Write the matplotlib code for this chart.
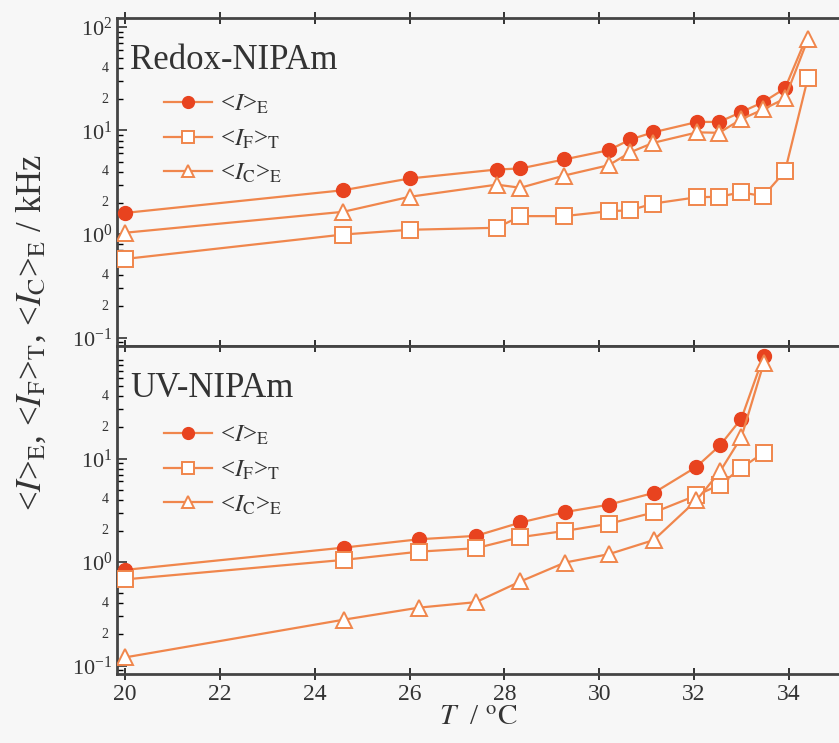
import matplotlib
matplotlib.use("Agg")
import matplotlib.pyplot as plt
from matplotlib.ticker import LogLocator, FixedLocator, NullFormatter
import numpy as np

plt.rcParams['font.family'] = ['Liberation Serif', 'DejaVu Serif']
plt.rcParams['mathtext.fontset'] = 'stix'

# Redox-NIPAm (top panel)
T_redox = [20.0, 24.6, 26.0, 27.84, 28.34, 29.26, 30.2, 30.66, 31.14, 32.07, 32.53, 32.99, 33.46, 33.92, 34.4]
I_redox = [1.60, 2.65, 3.44, 4.2, 4.3, 5.25, 6.45, 8.2, 9.6, 12.1, 12.1, 15.0, 18.8, 25.5, 85.0]
IF_redox = [0.575, 0.99, 1.10, 1.15, 1.49, 1.49, 1.66, 1.70, 1.97, 2.27, 2.29, 2.53, 2.32, 4.04, 31.8]
IC_redox = [1.03, 1.64, 2.29, 3.0, 2.8, 3.67, 4.62, 6.17, 7.6, 9.6, 9.5, 12.8, 16.0, 20.4, 75.7]

# UV-NIPAm (bottom panel)
T_uv = [20.0, 24.62, 26.2, 27.4, 28.34, 29.28, 30.2, 31.15, 32.05, 32.55, 33.0, 33.47]
I_uv = [0.84, 1.38, 1.66, 1.79, 2.41, 3.04, 3.58, 4.65, 8.3, 13.4, 24.3, 98.0]
IF_uv = [0.68, 1.05, 1.26, 1.36, 1.74, 2.0, 2.34, 3.01, 4.4, 5.6, 8.1, 11.4]
IC_uv = [0.12, 0.278, 0.363, 0.41, 0.65, 0.99, 1.19, 1.63, 3.94, 7.5, 16.1, 83.0]

x_ticks = [20, 22, 24, 26, 28, 30, 32, 34]
minor_pos = [0.2, 0.4, 2, 4, 20, 40]
minor_txt = ['2', '4', '2', '4', '2', '4']
labels = [r'<$I$>$_\mathrm{E}$', r'<$I_\mathrm{F}$>$_\mathrm{T}$', r'<$I_\mathrm{C}$>$_\mathrm{E}$']

line_c = '#f0864c'
dot_c = '#e8431f'
bg = '#f7f7f7'
txt_c = '#333333'

fig = plt.figure(figsize=(8.39, 7.43), dpi=100, facecolor=bg)
ax1 = fig.add_axes([0.1395, 0.5343, 0.86, 0.4415], facecolor=bg)
ax2 = fig.add_axes([0.1395, 0.0929, 0.86, 0.4414], facecolor=bg)

def draw(ax, T, I, IF, IC, title, leg_y, majors, dot_every):
    ax.plot(T, I, '-o', color=line_c, lw=1.6, ms=10, mfc=dot_c, mec=dot_c, label=labels[0],
            markevery=dot_every, zorder=3)
    ax.plot(T, IF, '-s', color=line_c, lw=1.6, ms=11, mfc='white', mec=line_c, mew=1.4, label=labels[1], zorder=4)
    ax.plot(T, IC, '-^', color=line_c, lw=1.6, ms=11, mfc='white', mec=line_c, mew=1.4, label=labels[2], zorder=5)
    ax.set_yscale('log')
    ax.set_ylim(0.083, 122)
    ax.set_xlim(19.83, 35.05)
    ax.set_xticks(x_ticks)
    ax.yaxis.set_major_locator(FixedLocator(majors))
    ax.yaxis.set_minor_locator(LogLocator(base=10, subs=np.arange(2, 10)))
    ax.yaxis.set_minor_formatter(NullFormatter())
    for v, s in zip(minor_pos, minor_txt):
        ax.text(-0.012, v, s, transform=ax.get_yaxis_transform(),
                ha='right', va='center', fontsize=10, color=txt_c)
    ax.tick_params(axis='y', which='major', direction='in', length=7, width=1.2, labelsize=16, colors=txt_c)
    ax.tick_params(axis='y', which='minor', direction='in', length=4, width=1)
    ax.tick_params(axis='x', which='major', direction='inout', length=8, width=1.4, top=True,
                   labelsize=17, colors=txt_c)
    for s in ['left', 'top', 'bottom']:
        ax.spines[s].set_linewidth(2)
        ax.spines[s].set_color('#444444')
    ax.spines['right'].set_visible(False)
    ax.text(0.018, 0.87, title, transform=ax.transAxes, fontsize=25, va='center', ha='left', color=txt_c)
    leg = ax.legend(loc='upper left', bbox_to_anchor=(0.048, leg_y), frameon=False, fontsize=18,
                    handlelength=1.9, handletextpad=0.35, labelspacing=0.45, borderpad=0, markerscale=0.85)
    for t in leg.get_texts():
        t.set_color(txt_c)

draw(ax1, T_redox, I_redox, IF_redox, IC_redox, 'Redox-NIPAm', 0.81, [0.1, 1, 10, 100],
     list(range(len(T_redox) - 1)))
draw(ax2, T_uv, I_uv, IF_uv, IC_uv, 'UV-NIPAm', 0.80, [0.1, 1, 10], None)

ax1.tick_params(axis='x', labelbottom=False)
ax2.set_xlabel(r'$T$  / $\mathrm{{}^{o}C}$', fontsize=21, color=txt_c, labelpad=0)

fig.text(0.038, 0.553, r'<$I$>$_\mathrm{E}$, <$I_\mathrm{F}$>$_\mathrm{T}$, <$I_\mathrm{C}$>$_\mathrm{E}$ / kHz',
         rotation=90, ha='center', va='center', fontsize=25, color=txt_c)

fig.savefig('out.png', dpi=100, facecolor=bg)
